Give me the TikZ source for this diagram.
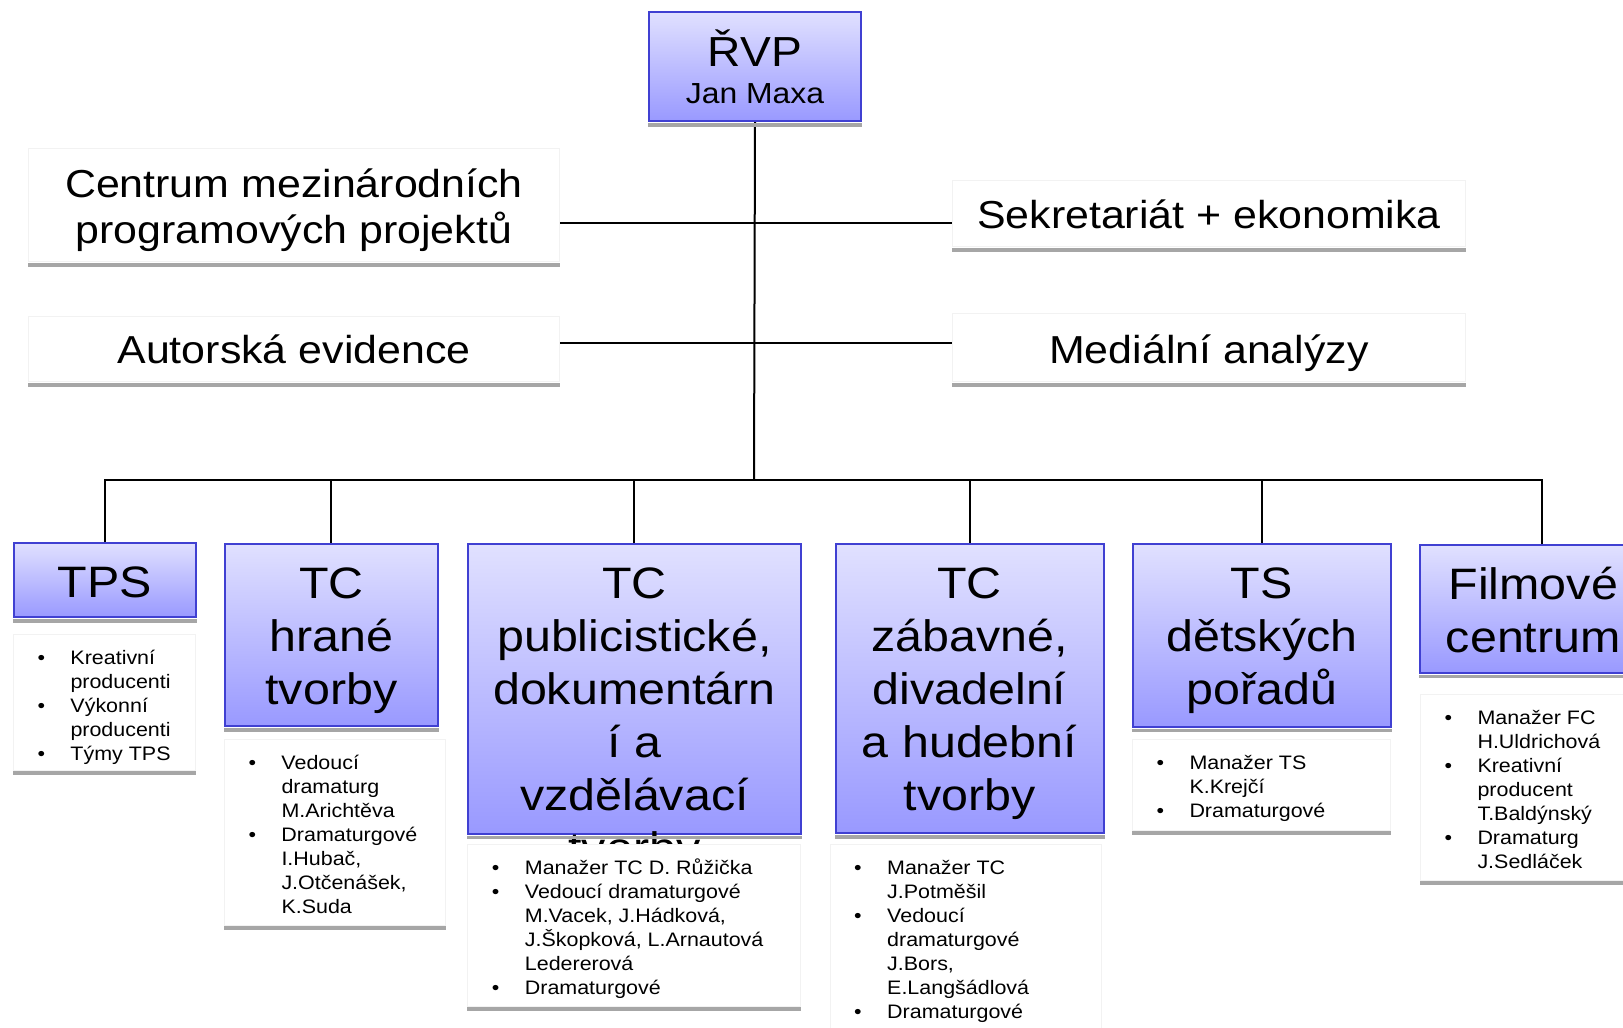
\documentclass[tikz,border=0pt]{standalone}
\usepackage{fontspec}
\setmainfont{Liberation Sans}[FakeStretch=1.1]
\usetikzlibrary{positioning}
\definecolor{edge}{RGB}{64,64,210}
\newcommand\blk[4]{\parbox[t][#2][t]{#1}{\centering\hbox{}\vskip\dimexpr#3-\baselineskip\relax#4}}
\newcommand\lst[3]{\parbox[t][#2][t]{#1}{\raggedright\leftskip=57pt\relax\hbox{}\vskip\dimexpr30pt-\baselineskip\relax#3}}
\newcommand\itm{\par\noindent\llap{\makebox[33pt][l]{\textbullet}}}
\tikzset{
	unitbox/.style={draw=edge, line width=2pt, top color=blue!12, bottom color=blue!40, inner sep=0pt, anchor=north west, font=\fontsize{44}{53}\selectfont},
	sidebox/.style={draw=black!5, line width=1pt, fill=white, inner sep=0pt, anchor=north west, font=\fontsize{39}{46.6}\selectfont},
	listbox/.style={draw=black!5, line width=1pt, fill=white, inner sep=0pt, font=\fontsize{19.5}{24}\selectfont},
	wire/.style={line width=2pt},
	hatch/.style={fill=black!35}
}
\begin{document}
\begin{tikzpicture}[x=1pt, y=-1pt]
	\useasboundingbox (0,0) rectangle (1623,1028);
	\clip (0,0) rectangle (1623,1028);

	\node[unitbox, font=\fontsize{42}{50}\selectfont] (rvp) at (648,11) {\blk{212pt}{109pt}{54pt}{ŘVP\\\fontsize{29}{37}\selectfont Jan Maxa}};
	\node[sidebox] (cmpp) at (28,148) {\blk{531pt}{113pt}{48.7pt}{Centrum mezinárodních\\programových projektů}};
	\node[sidebox] (ae) at (28,316) {\blk{531pt}{65pt}{47pt}{Autorská evidence}};
	\node[sidebox] (sek) at (952,180) {\blk{513pt}{66pt}{48pt}{Sekretariát + ekonomika}};
	\node[sidebox] (ma) at (952,313) {\blk{513pt}{68pt}{50pt}{Mediální analýzy}};

	\node[unitbox] (tps) at (12.7,541.7) {\blk{182.3pt}{74.3pt}{55pt}{TPS}};
	\node[unitbox] (tchr) at (224,542.7) {\blk{212.7pt}{182.3pt}{54.6pt}{TC\\hrané\\tvorby}};
	\node[unitbox] (tcpub) at (466.9,543.3) {\blk{333pt}{289.4pt}{54pt}{TC\\publicistické,\\dokumentárn\\í a\\vzdělávací\\tvorby}};
	\node[unitbox] (tczab) at (834.6,543) {\blk{268pt}{289pt}{54pt}{TC\\zábavné,\\divadelní\\a hudební\\tvorby}};
	\node[unitbox] (tsdp) at (1131.7,543.3) {\blk{258.3pt}{182.4pt}{54pt}{TS\\dětských\\pořadů}};
	\node[unitbox] (fc) at (1419.3,544.3) {\blk{226pt}{127.4pt}{54pt}{Filmové\\centrum}};

	\coordinate (bus) at (754,480);
	\coordinate (j1) at (754,222.7);
	\coordinate (j2) at (754,343.3);
	\draw[wire] (rvp.south) -- (bus);
	\draw[wire] (cmpp.east |- j1) -- (sek.west |- j1);
	\draw[wire] (ae.east |- j2) -- (ma.west |- j2);
	\foreach \n in {tps,tchr,tcpub,tczab,tsdp}
		\draw[wire] (bus) -| (\n.north);
	\draw[wire] (bus) -| ([xshift=8.5pt]fc.north);

	\foreach \n in {rvp,cmpp,ae,sek,ma,tps,tchr,tcpub,tczab,tsdp,fc}
		\fill[hatch] ([yshift=-1pt]\n.south west) rectangle ([yshift=-4.5pt]\n.south east);

	\node[listbox, below right=15.7pt and 0.3pt of tps.south west] (tpsl) {\lst{182pt}{136pt}{\itm Kreativní\\producenti\itm Výkonní\\producenti\itm Týmy TPS}};
	\node[listbox, below right=11.7pt and 0pt of tchr.south west] (tchrl) {\lst{221pt}{186pt}{\itm Vedoucí\\dramaturg\\M.Arichtěva\itm Dramaturgové\\I.Hubač,\\J.Otčenášek,\\K.Suda}};
	\node[listbox, below right=9pt and 0.5pt of tcpub.south west] (tcpubl) {\lst{332.6pt}{162.6pt}{\itm Manažer TC D. Růžička\itm Vedoucí dramaturgové\\M.Vacek, J.Hádková,\\J.Škopková, L.Arnautová\\Ledererová\itm Dramaturgové}};
	\node[listbox, below right=9.7pt and -4.9pt of tczab.south west] (tczabl) {\lst{271pt}{200pt}{\itm Manažer TC\\J.Potměšil\itm Vedoucí\\dramaturgové\\J.Bors,\\E.Langšádlová\itm Dramaturgové}};
	\node[listbox, below right=11pt and 0.3pt of tsdp.south west] (tsdpl) {\lst{258pt}{91pt}{\itm Manažer TS\\K.Krejčí\itm Dramaturgové}};
	\node[listbox, below right=20pt and 0.7pt of fc.south west] (fcl) {\lst{240pt}{186pt}{\itm Manažer FC\\H.Uldrichová\itm Kreativní\\producent\\T.Baldýnský\itm Dramaturg\\J.Sedláček}};

	\foreach \n in {tpsl,tchrl,tcpubl,tczabl,tsdpl,fcl}
		\fill[hatch] (\n.south west) rectangle ([yshift=-4pt]\n.south east);
\end{tikzpicture}
\end{document}
